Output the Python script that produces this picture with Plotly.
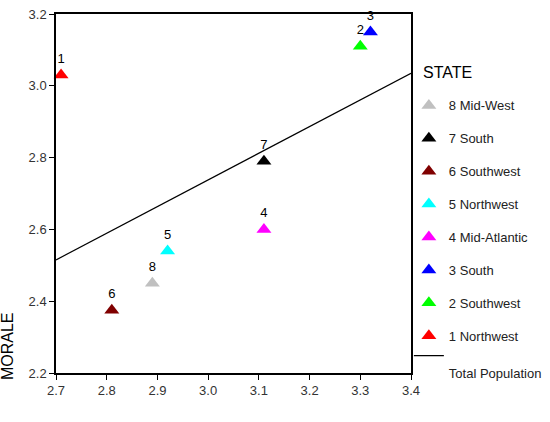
import plotly.graph_objects as go

# Data
state_ids = ["8", "7", "6", "5", "4", "3", "2", "1"]
state_names = ["8 Mid-West", "7 South", "6 Southwest", "5 Northwest",
               "4 Mid-Atlantic", "3 South", "2 Southwest", "1 Northwest"]
x_vals = [2.89, 3.11, 2.81, 2.92, 3.11, 3.32, 3.30, 2.71]
morale = [2.45, 2.79, 2.375, 2.54, 2.60, 3.15, 3.11, 3.03]
colors = ["#c0c0c0", "#000000", "#800000", "#00ffff",
          "#ff00ff", "#0000ff", "#00ff00", "#ff0000"]
line_x = [2.7, 3.4]
line_y = [2.515, 3.035]

fig = go.Figure()
for i in range(len(state_ids)):
    fig.add_trace(go.Scatter(
        x=[x_vals[i]], y=[morale[i]], mode="markers+text",
        text=[state_ids[i]], textposition="top center",
        textfont=dict(size=13, color="#000000"),
        marker=dict(symbol="triangle-up", size=13, color=colors[i]),
        name=state_names[i], legendgroup=state_names[i],
        cliponaxis=False,
    ))
fig.add_trace(go.Scatter(
    x=line_x, y=line_y, mode="lines",
    line=dict(color="black", width=1.2),
    name="&nbsp;<br>Total Population", legendgroup=state_names[-1],
))

fig.update_layout(
    width=550, height=422,
    margin=dict(l=56, r=139, t=14, b=49, autoexpand=False),
    paper_bgcolor="white", plot_bgcolor="white",
    font=dict(family="Liberation Sans, Arial, sans-serif", size=13, color="#222"),
    showlegend=True,
    legend=dict(
        x=0.994, xanchor="left", y=0.787, yanchor="top",
        font=dict(size=13, color="#222"),
        tracegroupgap=13, itemwidth=30, valign="top",
        bgcolor="rgba(0,0,0,0)",
    ),
    xaxis=dict(
        range=[2.7, 3.4], dtick=0.1, tickformat=".1f",
        showgrid=False, zeroline=False,
        showline=True, linecolor="black", linewidth=1.5, mirror=True,
        ticks="outside", ticklen=5, tickcolor="black",
        tickfont=dict(size=13, color="#333"),
    ),
    yaxis=dict(
        range=[2.2, 3.2], dtick=0.2, tickformat=".1f",
        showgrid=False, zeroline=False,
        showline=True, linecolor="black", linewidth=1.5, mirror=True,
        ticks="outside", ticklen=5, tickcolor="black",
        tickfont=dict(size=13, color="#333"),
    ),
    annotations=[
        dict(
            text="MORALE", xref="paper", yref="paper", x=-0.135, y=-0.025,
            xanchor="center", yanchor="bottom", textangle=-90, showarrow=False,
            font=dict(size=16, color="#000"),
        ),
        dict(
            text="STATE", xref="paper", yref="paper", x=1.028, y=0.807,
            xanchor="left", yanchor="bottom", showarrow=False,
            font=dict(size=16, color="#000"),
        ),
    ],
)

fig.write_html("out.html")
